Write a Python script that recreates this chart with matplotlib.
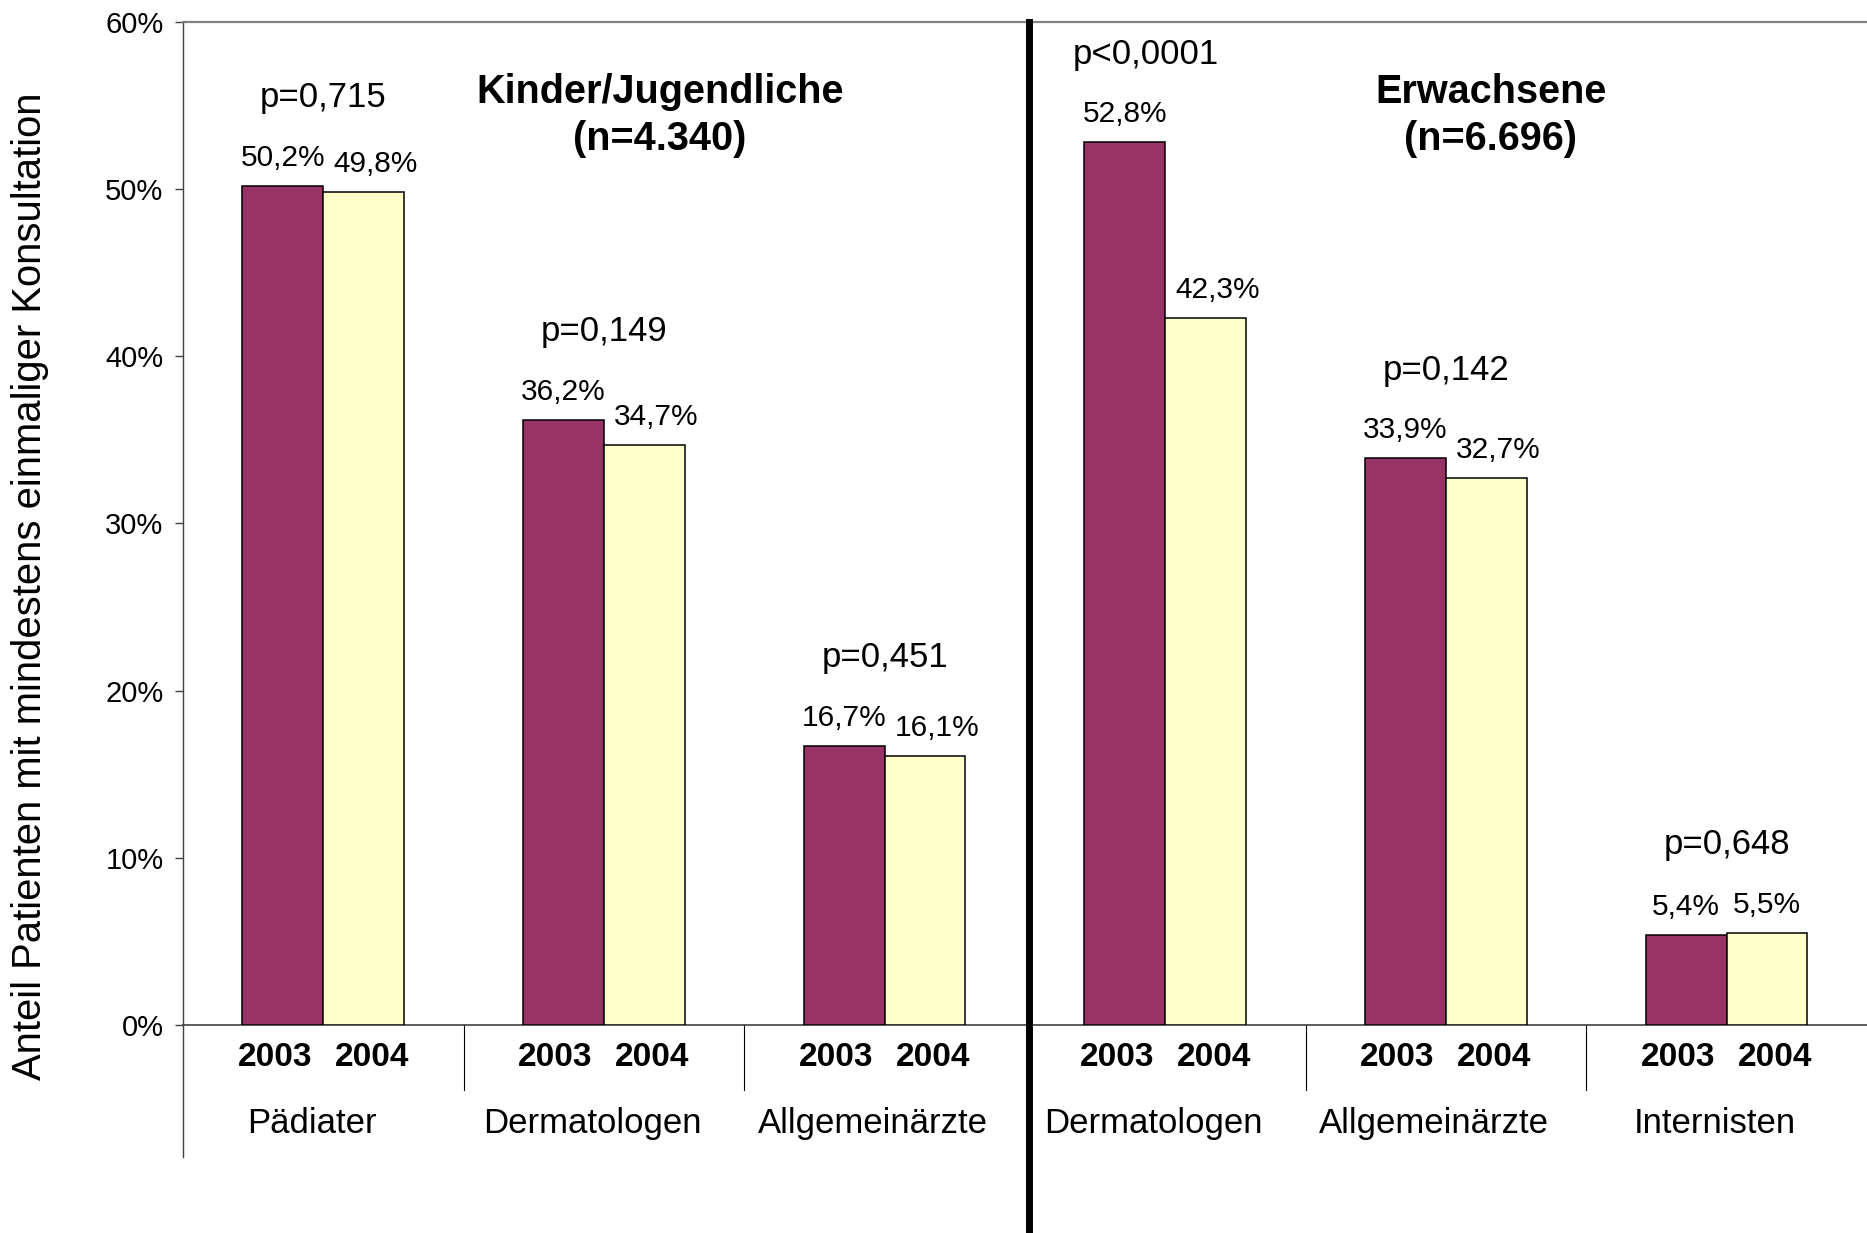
import numpy as np
import matplotlib
matplotlib.use('Agg')
import matplotlib.pyplot as plt
from matplotlib.ticker import FuncFormatter

plt.rcParams['font.family'] = ['Liberation Sans', 'DejaVu Sans']

# Daten
kategorien = ['Pädiater', 'Dermatologen', 'Allgemeinärzte', 'Dermatologen', 'Allgemeinärzte', 'Internisten']
jahre = ['2003', '2004']
werte_2003 = [50.2, 36.2, 16.7, 52.8, 33.9, 5.4]
werte_2004 = [49.8, 34.7, 16.1, 42.3, 32.7, 5.5]
p_werte = ['p=0,715', 'p=0,149', 'p=0,451', 'p<0,0001', 'p=0,142', 'p=0,648']
gruppen = ['Kinder/Jugendliche\n(n=4.340)', 'Erwachsene\n(n=6.696)']

farbe_2003 = '#993366'
farbe_2004 = '#FFFFCC'

fig = plt.figure(figsize=(18.67, 12.33), dpi=100)
ax = fig.add_axes([0.098, 0.1687, 0.902, 0.8135])

x = np.arange(len(kategorien))
b = 0.288
ax.bar(x - b / 2, werte_2003, b, color=farbe_2003, edgecolor='black', linewidth=1.1, zorder=3)
ax.bar(x + b / 2, werte_2004, b, color=farbe_2004, edgecolor='black', linewidth=1.1, zorder=3)

def fmt(v):
    return f'{v:.1f}'.replace('.', ',') + '%'

tr = ax.get_xaxis_transform()
for i in range(len(kategorien)):
    ax.text(x[i] - b / 2, werte_2003[i] + 1.2, fmt(werte_2003[i]), ha='center', va='baseline', fontsize=21.5)
    # 2004-Label etwas nach rechts, wenn es tiefer liegt (Excel-Ausweichen)
    dx = 0.042 if werte_2004[i] < werte_2003[i] else 0
    ax.text(x[i] + b / 2 + dx, werte_2004[i] + 1.2, fmt(werte_2004[i]), ha='center', va='baseline', fontsize=21.5)
    px = x[i] - 0.07 if p_werte[i].startswith('p<') else x[i]
    ax.text(px, max(werte_2003[i], werte_2004[i]) + 4.7, p_werte[i], ha='center', va='baseline', fontsize=25)
    # Jahreszahlen und Kategorien unter der Achse
    for j, off in enumerate([-0.173, 0.173]):
        ax.text(x[i] + off, -0.032, jahre[j], transform=tr,
                ha='center', va='center', fontsize=24, fontweight='bold')
    ax.text(x[i] - 0.042, -0.098, kategorien[i], transform=tr,
            ha='center', va='center', fontsize=25)

# Gruppentitel
ax.text(1.2, 54.4, gruppen[0], ha='center', va='center', fontsize=28.5, fontweight='bold', linespacing=1.3)
ax.text(4.16, 54.4, gruppen[1], ha='center', va='center', fontsize=28.5, fontweight='bold', linespacing=1.3)

# Trennlinien
for sx in [0.5, 1.5, 3.5, 4.5]:
    ax.plot([sx, sx], [0, -0.065], transform=tr, color='black', lw=0.8, clip_on=False)
ax.plot([-0.5, -0.5], [0, -0.132], transform=tr, color='#404040', lw=1.0, clip_on=False)
ax.plot([2.513, 2.513], [1, -0.21], transform=tr, color='black', lw=5, clip_on=False, zorder=5)

ax.set_xlim(-0.5, 5.5)
ax.set_ylim(0, 60)
ax.set_yticks(np.arange(0, 61, 10))
ax.yaxis.set_major_formatter(FuncFormatter(lambda v, pos: f'{int(v)}%'))
ax.tick_params(axis='y', labelsize=21, length=6, width=1, color='#404040', pad=8)
ax.set_xticks([])

ax.spines['right'].set_visible(False)
ax.spines['top'].set_color('#808080')
ax.spines['top'].set_linewidth(1.6)
ax.spines['left'].set_color('#404040')
ax.spines['left'].set_linewidth(1.0)
ax.spines['bottom'].set_color('#404040')
ax.spines['bottom'].set_linewidth(1.2)

fig.text(0.016, 0.5247, 'Anteil Patienten mit mindestens einmaliger Konsultation',
         rotation=90, ha='center', va='center', fontsize=28.8)

plt.savefig('out.png', dpi=100)
